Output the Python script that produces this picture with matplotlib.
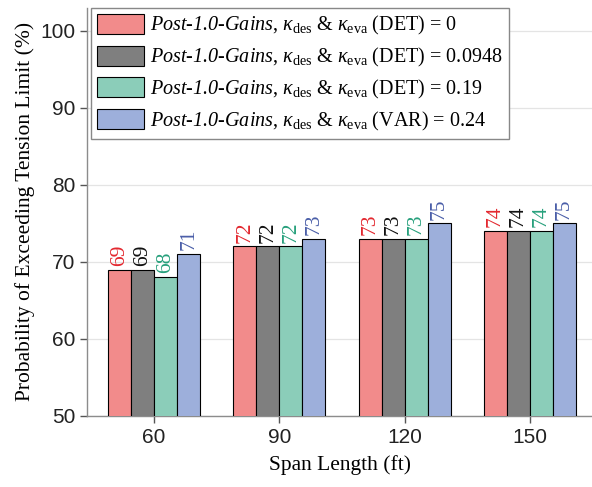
import matplotlib.pyplot as plt
import numpy as np

# Datos
spans = ['60', '90', '120', '150']
det_0 = [69, 72, 73, 74]
det_0948 = [69, 72, 73, 74]
det_019 = [68, 72, 73, 74]
var_024 = [71, 73, 75, 75]

labels = ['(DET) = 0', '(DET) = 0.0948', '(DET) = 0.19', '(VAR) = 0.24']
bar_colors = ['#f28b8b', '#7f7f7f', '#8bcdb9', '#9dafdb']
text_colors = ['#e3282f', '#111111', '#27a07c', '#4a5ea8']

# mathtext: rm en cursiva para que "1.0" salga en cursiva; sf normal para subíndices
plt.rcParams['mathtext.fontset'] = 'custom'
plt.rcParams['mathtext.rm'] = 'Liberation Serif:italic'
plt.rcParams['mathtext.it'] = 'Liberation Serif:italic'
plt.rcParams['mathtext.sf'] = 'Liberation Serif'
plt.rcParams['mathtext.bf'] = 'Liberation Serif:bold'

fig = plt.figure(figsize=(5.92, 4.87), dpi=100)
ax = fig.add_axes([0.147, 0.146, 0.853, 0.838])

x = np.arange(len(spans))
width = 0.184
series = [det_0, det_0948, det_019, var_024]

for i, vals in enumerate(series):
    pos = x + (i - 1.5) * width
    name = (r'$\mathit{Post‐1.0‐Gains}$, $\kappa_{\mathsf{des}}$ & '
            r'$\kappa_{\mathsf{eva}}$ ' + labels[i])
    ax.bar(pos, vals, width, color=bar_colors[i], edgecolor='black', linewidth=0.8,
           label=name, zorder=3)
    for p, v in zip(pos, vals):
        ax.text(p, v + 0.5, str(v), rotation=90, ha='center', va='bottom',
                color=text_colors[i], fontsize=15.5, family='Liberation Serif')

ax.set_xlim(-0.536, 3.496)
ax.set_ylim(50, 103)
ax.set_xticks(x)
ax.set_xticklabels(spans)
ax.set_yticks([50, 60, 70, 80, 90, 100])
ax.grid(axis='y', color='#e4e4e4', linewidth=0.9, zorder=0)

for s in ['top', 'right']:
    ax.spines[s].set_visible(False)
for s in ['left', 'bottom']:
    ax.spines[s].set_color('#8c8c8c')
    ax.spines[s].set_linewidth(1.0)
ax.tick_params(axis='both', colors='#555555', labelcolor='#222222',
               labelsize=15, direction='out', length=5, width=1.0)
for t in ax.get_xticklabels() + ax.get_yticklabels():
    t.set_family('Liberation Sans')

ax.set_xlabel('Span Length (ft)', family='Liberation Serif', fontsize=15.5, labelpad=6)
ax.set_ylabel('Probability of Exceeding Tension Limit (%)', family='Liberation Serif',
              fontsize=15.5, labelpad=4)

leg = ax.legend(loc='upper left', bbox_to_anchor=(0.008, 1.0), fancybox=False,
                edgecolor='#888888', framealpha=1,
                prop={'family': 'Liberation Serif', 'size': 14.5},
                handlelength=2.35, handleheight=1.15, labelspacing=0.42,
                borderpad=0.3, handletextpad=0.3, borderaxespad=0.0)
leg.get_frame().set_linewidth(1.0)

fig.savefig('out.png', dpi=100)
